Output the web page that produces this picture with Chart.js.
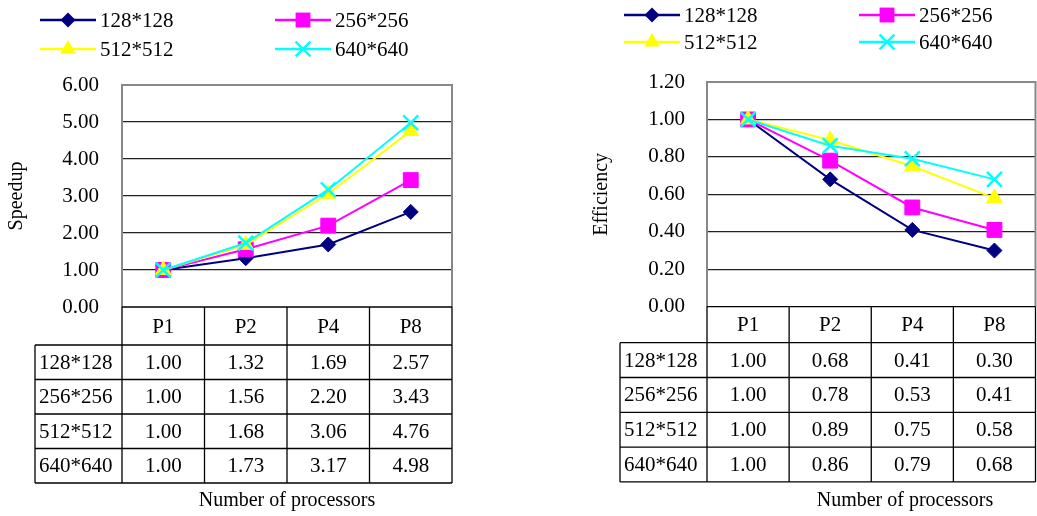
<!DOCTYPE html>
<html>
<head>
<meta charset="utf-8">
<script src="https://cdn.jsdelivr.net/npm/chart.js@4.4.0/dist/chart.umd.min.js"></script>
<style>
html,body{margin:0;padding:0;background:#fff;}
#wrap{position:relative;width:1037px;height:516px;overflow:hidden;background:#fff;}
canvas{position:absolute;top:0;}
#c1{left:0;}
#c2{left:520px;}
</style>
</head>
<body>
<div id="wrap">
<canvas id="c1" width="520" height="516"></canvas>
<canvas id="c2" width="517" height="516"></canvas>
</div>
<script>
// ---- data ----
const categories = ['P1', 'P2', 'P4', 'P8'];
const seriesNames = ['128*128', '256*256', '512*512', '640*640'];
const speedup128 = [1.00, 1.32, 1.69, 2.57];
const speedup256 = [1.00, 1.56, 2.20, 3.43];
const speedup512 = [1.00, 1.68, 3.06, 4.76];
const speedup640 = [1.00, 1.73, 3.17, 4.98];
const eff128 = [1.00, 0.68, 0.41, 0.30];
const eff256 = [1.00, 0.78, 0.53, 0.41];
const eff512 = [1.00, 0.89, 0.75, 0.58];
const eff640 = [1.00, 0.86, 0.79, 0.68];
const speedupAxis = {min: 0, max: 6, step: 1};
const effAxis = {min: 0, max: 1.2, step: 0.2};
const xTitle = 'Number of processors';
const leftYTitle = 'Speedup';
const rightYTitle = 'Efficiency';

// ---- styles ----
const colors = ['#000080', '#FF00FF', '#FFFF00', '#00FFFF'];
const pStyles = ['rectRot', 'rect', 'triangle', 'crossRot'];
const pRadius = [7.5, 10.5, 9, 10.5];
const FONT = "'Liberation Serif', 'Times New Roman', serif";

function drawMarker(ctx, style, x, y, r, color) {
  ctx.save();
  ctx.fillStyle = color; ctx.strokeStyle = color; ctx.lineWidth = 2.5;
  ctx.beginPath();
  if (style === 'rectRot') {
    ctx.moveTo(x, y - r); ctx.lineTo(x + r, y); ctx.lineTo(x, y + r); ctx.lineTo(x - r, y); ctx.closePath(); ctx.fill();
  } else if (style === 'rect') {
    const s = r * Math.SQRT1_2; ctx.rect(x - s, y - s, 2 * s, 2 * s); ctx.fill();
  } else if (style === 'triangle') {
    ctx.moveTo(x, y - r); ctx.lineTo(x + r * 0.866, y + r * 0.5); ctx.lineTo(x - r * 0.866, y + r * 0.5); ctx.closePath(); ctx.fill();
  } else {
    const s = r * Math.SQRT1_2;
    ctx.moveTo(x - s, y - s); ctx.lineTo(x + s, y + s); ctx.moveTo(x + s, y - s); ctx.lineTo(x - s, y + s); ctx.stroke();
  }
  ctx.restore();
}

function makeChart(id, series, axis, cfg) {
  const datasets = series.map((d, i) => ({
    label: seriesNames[i],
    data: d,
    borderColor: colors[i],
    backgroundColor: colors[i],
    borderWidth: 2,
    pointStyle: pStyles[i],
    pointRadius: pRadius[i],
    pointBorderWidth: pStyles[i] === 'crossRot' ? 2.5 : 1,
    pointBackgroundColor: colors[i],
    pointBorderColor: colors[i],
    tension: 0,
    clip: false,
    order: 4 - i
  }));

  const panelPlugin = {
    id: 'panel' + id,
    beforeDatasetsDraw(chart) {
      const ctx = chart.ctx, a = chart.chartArea;
      ctx.save();
      ctx.strokeStyle = '#888888'; ctx.lineWidth = 2;
      ctx.beginPath();
      ctx.moveTo(a.left, a.top); ctx.lineTo(a.right, a.top); ctx.lineTo(a.right, a.bottom);
      ctx.stroke();
      ctx.restore();
    },
    afterDraw(chart) {
      const ctx = chart.ctx, a = chart.chartArea, xs = chart.scales.x;
      const half = (xs.getPixelForValue(1) - xs.getPixelForValue(0)) / 2;
      const bounds = [];
      for (let i = 0; i < categories.length; i++) bounds.push(xs.getPixelForValue(i) - half);
      bounds.push(xs.getPixelForValue(categories.length - 1) + half);
      const rows = [cfg.headerBottom];
      for (let r = 1; r <= series.length; r++) rows.push(cfg.headerBottom + r * cfg.rowH);
      const tableBottom = rows[rows.length - 1];
      ctx.save();
      ctx.strokeStyle = '#000'; ctx.lineWidth = 1.3;
      ctx.beginPath();
      ctx.moveTo(a.left, a.bottom); ctx.lineTo(bounds[bounds.length - 1], a.bottom);
      bounds.forEach(b => { ctx.moveTo(b, a.bottom); ctx.lineTo(b, tableBottom); });
      ctx.moveTo(cfg.labelLeft, cfg.headerBottom); ctx.lineTo(cfg.labelLeft, tableBottom);
      rows.forEach(y => { ctx.moveTo(cfg.labelLeft, y); ctx.lineTo(bounds[bounds.length - 1], y); });
      ctx.stroke();

      ctx.fillStyle = '#000';
      ctx.font = '21px ' + FONT;
      ctx.textBaseline = 'middle';
      ctx.textAlign = 'center';
      categories.forEach((c, i) => ctx.fillText(c, xs.getPixelForValue(i), (a.bottom + cfg.headerBottom) / 2 + 1));
      series.forEach((d, r) => {
        const yc = (rows[r] + rows[r + 1]) / 2 + 1;
        ctx.textAlign = 'left';
        ctx.fillText(seriesNames[r], cfg.labelLeft + 4, yc);
        ctx.textAlign = 'center';
        d.forEach((v, i) => ctx.fillText(v.toFixed(2), xs.getPixelForValue(i), yc));
      });

      // titles
      ctx.font = '20px ' + FONT;
      ctx.textAlign = 'center';
      ctx.fillText(xTitle, cfg.xTitleX, cfg.xTitleY);
      ctx.save();
      ctx.translate(cfg.yTitleX, (a.top + a.bottom) / 2);
      ctx.rotate(-Math.PI / 2);
      ctx.fillText(cfg.yTitle, 0, 0);
      ctx.restore();

      // legend
      ctx.font = '21px ' + FONT;
      ctx.textAlign = 'left';
      seriesNames.forEach((n, i) => {
        const col = i % 2, row = Math.floor(i / 2);
        const x0 = cfg.legX[col], y = cfg.legY[row];
        ctx.strokeStyle = colors[i]; ctx.lineWidth = 2.5;
        ctx.beginPath(); ctx.moveTo(x0, y); ctx.lineTo(x0 + 56, y); ctx.stroke();
        drawMarker(ctx, pStyles[i], x0 + 28, y, pRadius[i], colors[i]);
        ctx.fillStyle = '#000';
        ctx.fillText(n, x0 + 60, y + 1);
      });
      ctx.restore();
    }
  };

  return new Chart(document.getElementById(id), {
    type: 'line',
    data: {labels: categories, datasets},
    options: {
      responsive: false,
      animation: false,
      events: [],
      layout: {autoPadding: false, padding: {left: 0, right: cfg.padRight, top: cfg.top, bottom: 516 - cfg.bottom}},
      plugins: {legend: {display: false}, tooltip: {enabled: false}},
      scales: {
        x: {type: 'category', display: false, offset: true},
        y: {
          min: axis.min, max: axis.max,
          ticks: {
            stepSize: axis.step,
            color: '#000',
            font: {family: FONT, size: 21},
            padding: cfg.tickPad,
            callback: v => Number(v).toFixed(2)
          },
          grid: {
            drawTicks: false,
            color: c => (Math.abs(c.tick.value - axis.max) < 1e-6 || Math.abs(c.tick.value - axis.min) < 1e-6) ? 'rgba(0,0,0,0)' : '#222',
            lineWidth: 1.2
          },
          border: {display: true, color: '#888888', width: 2},
          afterFit: s => { s.width = cfg.axisW; }
        }
      }
    },
    plugins: [panelPlugin]
  });
}

makeChart('c1', [speedup128, speedup256, speedup512, speedup640], speedupAxis, {
  axisW: 122, padRight: 68, top: 85, bottom: 307, tickPad: 23,
  headerBottom: 345, rowH: 34.5, labelLeft: 35,
  xTitleX: 287, xTitleY: 501, yTitleX: 17, yTitle: leftYTitle,
  legX: [40, 275], legY: [20, 49]
});
makeChart('c2', [eff128, eff256, eff512, eff640], effAxis, {
  axisW: 187, padRight: 1.5, top: 82, bottom: 306.7, tickPad: 22,
  headerBottom: 342.7, rowH: 34.8, labelLeft: 100,
  xTitleX: 385, xTitleY: 501, yTitleX: 82, yTitle: rightYTitle,
  legX: [104, 339], legY: [15, 42]
});
</script>
</body>
</html>
